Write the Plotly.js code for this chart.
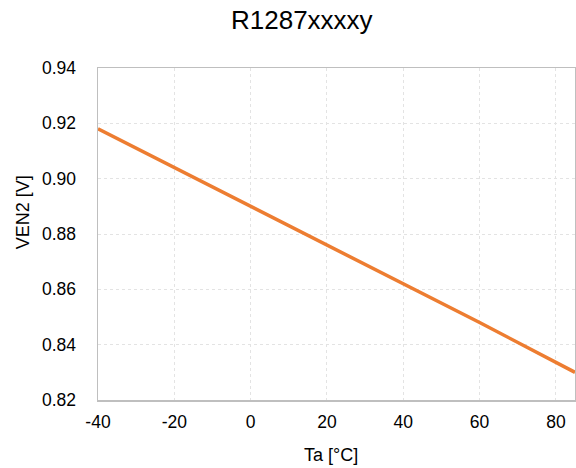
<!DOCTYPE html>
<html>
<head>
<meta charset="utf-8">
<script src="https://cdn.plot.ly/plotly-3.0.1.min.js"></script>
<style>html,body{margin:0;padding:0;background:#fff}#chart{width:576px;height:468px}</style>
</head>
<body>
<div id="chart"></div>
<script>
var temperature = [-40, -20, 0, 20, 40, 60, 85];
var ven2 = [0.918, 0.904, 0.890, 0.876, 0.862, 0.848, 0.830];
var xTickVals = [-40, -20, 0, 20, 40, 60, 80];
var xTickText = ['-40', '-20', '0', '20', '40', '60', '80'];
var yTickVals = [0.82, 0.84, 0.86, 0.88, 0.90, 0.92, 0.94];
var yTickText = ['0.82', '0.84', '0.86', '0.88', '0.90', '0.92', '0.94'];
var chartTitle = 'R1287xxxxy';
var xTitle = 'Ta [°C]';
var yTitle = 'VEN2 [V]';

var trace = {
  x: temperature, y: ven2, type: 'scatter', mode: 'lines',
  line: {color: '#ED7D31', width: 3.5},
  hoverinfo: 'skip'
};
var ff = 'Liberation Sans, Arial, sans-serif';
var layout = {
  width: 576, height: 468,
  margin: {l: 98, r: 1, t: 68, b: 68},
  paper_bgcolor: '#fff', plot_bgcolor: '#fff',
  showlegend: false,
  font: {family: ff, color: '#000'},
  title: {text: chartTitle, font: {family: ff, size: 26, color: '#000'}, x: 0.524, xanchor: 'center', y: 0.957, yanchor: 'middle'},
  xaxis: {
    range: [-40, 85], tickmode: 'array', tickvals: xTickVals, ticktext: xTickText,
    showgrid: true, gridcolor: '#e3e3e3', griddash: 'dot', gridwidth: 1,
    showline: true, linecolor: '#bfbfbf', linewidth: 1.5, mirror: true,
    zeroline: false, ticks: '', ticklabelstandoff: 5,
    tickfont: {size: 17.5, family: ff, color: '#000'}
  },
  yaxis: {
    range: [0.82, 0.94], tickmode: 'array', tickvals: yTickVals, ticktext: yTickText,
    showgrid: true, gridcolor: '#e3e3e3', griddash: 'dot', gridwidth: 1,
    showline: true, linecolor: '#bfbfbf', linewidth: 1.5, mirror: true,
    zeroline: false, ticks: '', ticklabelstandoff: 17,
    tickfont: {size: 17.5, family: ff, color: '#000'}
  },
  annotations: [
    {text: xTitle, xref: 'paper', yref: 'paper', x: 0.488, y: -0.166, xanchor: 'center', yanchor: 'middle',
     showarrow: false, font: {size: 18, family: ff, color: '#000'}},
    {text: yTitle, xref: 'paper', yref: 'paper', x: -0.157, y: 0.566, xanchor: 'center', yanchor: 'middle',
     textangle: -90, showarrow: false, font: {size: 18, family: ff, color: '#000'}}
  ]
};
Plotly.newPlot('chart', [trace], layout, {displayModeBar: false, staticPlot: true});
</script>
</body>
</html>
